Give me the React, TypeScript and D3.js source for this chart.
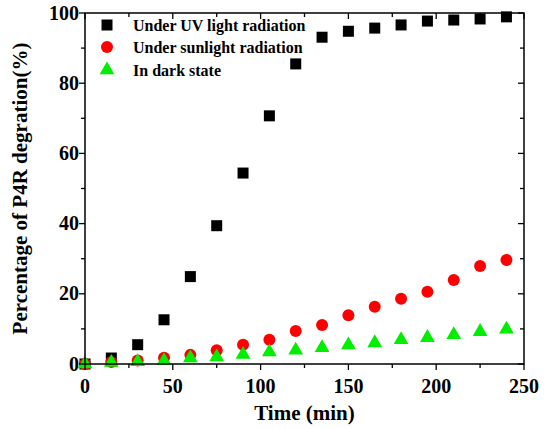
import React from "react";
import * as d3 from "d3";

const times = [0, 15, 30, 45, 60, 75, 90, 105, 120, 135, 150, 165, 180, 195, 210, 225, 240];
const uvValues = [0, 1.7, 5.5, 12.6, 24.9, 39.4, 54.4, 70.7, 85.5, 93.1, 94.8, 95.7, 96.6, 97.7, 98.0, 98.3, 98.9];
const sunValues = [0, 0.6, 1.0, 1.8, 2.6, 3.9, 5.5, 6.9, 9.4, 11.1, 13.9, 16.3, 18.6, 20.6, 23.9, 27.9, 29.6];
const darkValues = [0.3, 0.7, 0.9, 1.2, 2.0, 2.3, 3.0, 3.7, 4.2, 4.9, 5.7, 6.3, 7.2, 7.8, 8.6, 9.5, 10.2];
const legendLabels = ["Under UV light radiation", "Under sunlight radiation", "In dark state"];
const xTicks = [0, 50, 100, 150, 200, 250];
const yTicks = [0, 20, 40, 60, 80, 100];

const W = 546, H = 428;
const M = { left: 85, right: 22, top: 13, bottom: 64 };

export default function App() {
  const x = d3.scaleLinear().domain([0, 250]).range([M.left, W - M.right]);
  const y = d3.scaleLinear().domain([0, 100]).range([H - M.bottom, M.top]);
  const font = "'Liberation Serif', 'Times New Roman', serif";
  const x0 = x(0), x1 = x(250), y0 = y(0), y1 = y(100);
  const xMinor = d3.range(0, 251, 25);
  const yMinor = d3.range(0, 101, 10);
  const tri = d3.symbol().type(d3.symbolTriangle).size(95)();

  return (
    <svg width={W} height={H} style={{ position: "absolute", left: 0, top: 0, background: "#fff" }}>
      {/* markers */}
      <g>
        {times.map((t, i) => (
          <rect key={"u" + i} x={x(t) - 5.5} y={y(uvValues[i]) - 5.5} width={11} height={11} fill="#000" />
        ))}
        {times.map((t, i) => (
          <circle key={"s" + i} cx={x(t)} cy={y(sunValues[i])} r={6} fill="#ff0000" />
        ))}
        {times.map((t, i) => (
          <path key={"d" + i} d={tri} transform={`translate(${x(t)},${y(darkValues[i]) + 1})`} fill="#00ee00" />
        ))}
      </g>
      {/* frame */}
      <rect x={x0} y={y1} width={x1 - x0} height={y0 - y1} fill="none" stroke="#000" strokeWidth={1.5} />
      {/* bottom ticks (outward) & top ticks (inward) */}
      {xMinor.map((v) => {
        const major = v % 50 === 0;
        const len = major ? 6 : 4;
        return (
          <g key={"xt" + v}>
            <line x1={x(v)} x2={x(v)} y1={y0} y2={y0 + len} stroke="#000" strokeWidth={1.3} />
            <line x1={x(v)} x2={x(v)} y1={y1} y2={y1 + len} stroke="#000" strokeWidth={1.3} />
          </g>
        );
      })}
      {yMinor.map((v) => {
        const major = v % 20 === 0;
        const len = major ? 6 : 4;
        return (
          <g key={"yt" + v}>
            <line x1={x0 - len} x2={x0} y1={y(v)} y2={y(v)} stroke="#000" strokeWidth={1.3} />
            <line x1={x1 - len} x2={x1} y1={y(v)} y2={y(v)} stroke="#000" strokeWidth={1.3} />
          </g>
        );
      })}
      {xTicks.map((v) => (
        <text key={"xl" + v} x={x(v)} y={y0 + 29} textAnchor="middle" fontFamily={font} fontWeight="bold" fontSize={20}>
          {v}
        </text>
      ))}
      {yTicks.map((v) => (
        <text key={"yl" + v} x={x0 - 6} y={y(v) + 6.5} textAnchor="end" fontFamily={font} fontWeight="bold" fontSize={20}>
          {v}
        </text>
      ))}
      <text x={(x0 + x1) / 2} y={420} textAnchor="middle" fontFamily={font} fontWeight="bold" fontSize={21}>
        Time (min)
      </text>
      <text
        transform={`translate(27,${(y0 + y1) / 2}) rotate(-90)`}
        textAnchor="middle"
        fontFamily={font}
        fontWeight="bold"
        fontSize={21}
      >
        Percentage of P4R degration(%)
      </text>
      {/* legend */}
      <g fontFamily={font} fontWeight="bold" fontSize={16}>
        <rect x={107 - 5.5} y={25 - 5.5} width={11} height={11} fill="#000" />
        <text x={133} y={30.5}>{legendLabels[0]}</text>
        <circle cx={107} cy={47} r={6} fill="#ff0000" />
        <text x={133} y={52.5}>{legendLabels[1]}</text>
        <path d={tri} transform={`translate(107,${70})`} fill="#00ee00" />
        <text x={133} y={75.5}>{legendLabels[2]}</text>
      </g>
    </svg>
  );
}
